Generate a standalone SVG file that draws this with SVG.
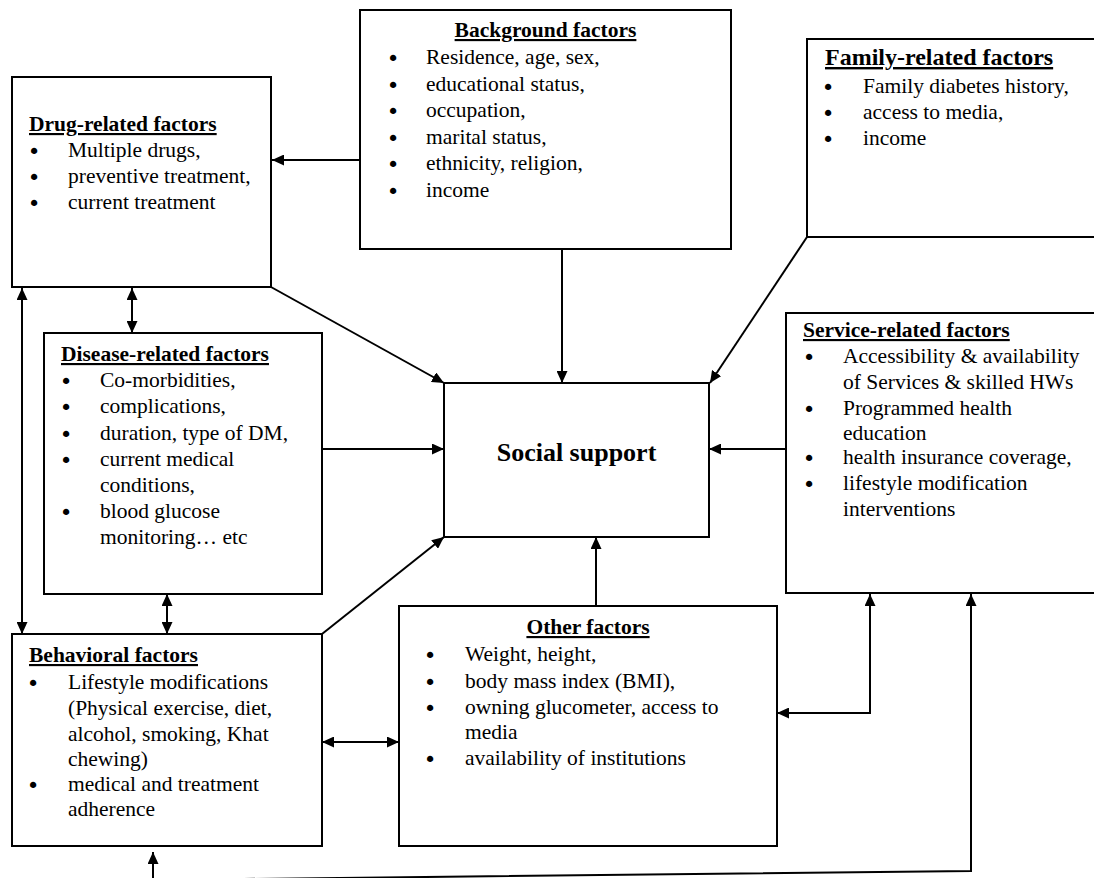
<svg xmlns="http://www.w3.org/2000/svg" width="1094" height="878" viewBox="0 0 1094 878">
<defs>
<marker id="ah" markerUnits="userSpaceOnUse" markerWidth="13" markerHeight="11" refX="12" refY="5.5" orient="auto-start-reverse" viewBox="0 0 13 11"><path d="M0,0 L12,5.5 L0,11 z" fill="#000"/></marker>
</defs>
<style>
.box{fill:#fff;stroke:#000;stroke-width:2}
text{font-family:"Liberation Serif","Times New Roman",serif;font-size:21.5px;fill:#000}
.t{font-weight:bold;text-decoration:underline}
.m{text-anchor:middle}
.b{text-anchor:middle;font-family:"DejaVu Sans",sans-serif;font-size:21.5px}
.c{stroke:#000;stroke-width:2;fill:none}
</style>
<rect width="1094" height="878" fill="#fff"/>

<g id="connectors">
<line class="c" x1="360" y1="160" x2="272" y2="160" marker-end="url(#ah)"/>
<line class="c" x1="562" y1="249" x2="562" y2="383" marker-end="url(#ah)"/>
<line class="c" x1="271" y1="287" x2="444" y2="383" marker-end="url(#ah)"/>
<line class="c" x1="807" y1="237" x2="710" y2="383" marker-end="url(#ah)"/>
<line class="c" x1="322" y1="449" x2="444" y2="449" marker-end="url(#ah)"/>
<line class="c" x1="786" y1="449" x2="709" y2="449" marker-end="url(#ah)"/>
<line class="c" x1="596" y1="606" x2="596" y2="537" marker-end="url(#ah)"/>
<line class="c" x1="322" y1="634" x2="444" y2="537" marker-end="url(#ah)"/>
<line class="c" x1="132" y1="288" x2="132" y2="333" marker-start="url(#ah)" marker-end="url(#ah)"/>
<line class="c" x1="22" y1="288" x2="22" y2="634" marker-start="url(#ah)" marker-end="url(#ah)"/>
<line class="c" x1="167" y1="594" x2="167" y2="634" marker-start="url(#ah)" marker-end="url(#ah)"/>
<line class="c" x1="322" y1="742" x2="399" y2="742" marker-start="url(#ah)" marker-end="url(#ah)"/>
<path class="c" d="M870,594 L870,713 L777,713" marker-start="url(#ah)" marker-end="url(#ah)"/>
<path class="c" d="M153,852 L153,880 L971,871 L971,594" marker-start="url(#ah)" marker-end="url(#ah)"/>
</g>

<g id="drug">
<rect class="box" x="12" y="77" width="259" height="210"/>
<text class="t" x="29" y="131">Drug-related factors</text>
<text class="b" x="34" y="157" dy="2">•</text><text x="68" y="157">Multiple drugs,</text>
<text class="b" x="34" y="183" dy="2">•</text><text x="68" y="183">preventive treatment,</text>
<text class="b" x="34" y="209" dy="2">•</text><text x="68" y="209">current treatment</text>
</g>

<g id="background">
<rect class="box" x="360" y="10" width="371" height="239"/>
<text class="t m" x="545.5" y="37">Background factors</text>
<text class="b" x="393" y="64" dy="2">•</text><text x="426" y="64">Residence, age, sex,</text>
<text class="b" x="393" y="90.5" dy="2">•</text><text x="426" y="90.5">educational status,</text>
<text class="b" x="393" y="117" dy="2">•</text><text x="426" y="117">occupation,</text>
<text class="b" x="393" y="143.5" dy="2">•</text><text x="426" y="143.5">marital status,</text>
<text class="b" x="393" y="170" dy="2">•</text><text x="426" y="170">ethnicity, religion,</text>
<text class="b" x="393" y="196.5" dy="2">•</text><text x="426" y="196.5">income</text>
</g>

<g id="family">
<rect class="box" x="807" y="39" width="293" height="198"/>
<text class="t" x="825" y="65" style="font-size:24px">Family-related factors</text>
<text class="b" x="828" y="93" dy="2">•</text><text x="863" y="93">Family diabetes history,</text>
<text class="b" x="828" y="119" dy="2">•</text><text x="863" y="119">access to media,</text>
<text class="b" x="828" y="145" dy="2">•</text><text x="863" y="145">income</text>
</g>

<g id="disease">
<rect class="box" x="44" y="333" width="278" height="261"/>
<text class="t" x="61" y="361">Disease-related factors</text>
<text class="b" x="66" y="387" dy="2">•</text><text x="100" y="387">Co-morbidities,</text>
<text class="b" x="66" y="413" dy="2">•</text><text x="100" y="413">complications,</text>
<text class="b" x="66" y="440" dy="2">•</text><text x="100" y="440">duration, type of DM,</text>
<text class="b" x="66" y="466" dy="2">•</text><text x="100" y="466">current medical</text>
<text x="100" y="492">conditions,</text>
<text class="b" x="66" y="518" dy="2">•</text><text x="100" y="518">blood glucose</text>
<text x="100" y="544">monitoring… etc</text>
</g>

<g id="social">
<rect class="box" x="444" y="383" width="265" height="154"/>
<text class="m" x="576.5" y="461" style="font-size:26px;font-weight:bold">Social support</text>
</g>

<g id="service">
<rect class="box" x="786" y="313" width="314" height="280"/>
<text class="t" x="803" y="337">Service-related factors</text>
<text class="b" x="809" y="363" dy="2">•</text><text x="843" y="363">Accessibility &amp; availability</text>
<text x="843" y="389">of Services &amp; skilled HWs</text>
<text class="b" x="809" y="415" dy="2">•</text><text x="843" y="415">Programmed health</text>
<text x="843" y="440">education</text>
<text class="b" x="809" y="464" dy="2">•</text><text x="843" y="464">health insurance coverage,</text>
<text class="b" x="809" y="490" dy="2">•</text><text x="843" y="490">lifestyle modification</text>
<text x="843" y="516">interventions</text>
</g>

<g id="behavioral">
<rect class="box" x="12" y="634" width="310" height="212"/>
<text class="t" x="29" y="662">Behavioral factors</text>
<text class="b" x="33" y="689" dy="2">•</text><text x="68" y="689">Lifestyle modifications</text>
<text x="68" y="715">(Physical exercise, diet,</text>
<text x="68" y="741">alcohol, smoking, Khat</text>
<text x="68" y="766">chewing)</text>
<text class="b" x="33" y="791" dy="2">•</text><text x="68" y="791">medical and treatment</text>
<text x="68" y="816">adherence</text>
</g>

<g id="other">
<rect class="box" x="399" y="606" width="378" height="240"/>
<text class="t m" x="588" y="634">Other factors</text>
<text class="b" x="430" y="661" dy="2">•</text><text x="465" y="661">Weight, height,</text>
<text class="b" x="430" y="688" dy="2">•</text><text x="465" y="688">body mass index (BMI),</text>
<text class="b" x="430" y="714" dy="2">•</text><text x="465" y="714">owning glucometer, access to</text>
<text x="465" y="739">media</text>
<text class="b" x="430" y="765" dy="2">•</text><text x="465" y="765">availability of institutions</text>
</g>
</svg>
